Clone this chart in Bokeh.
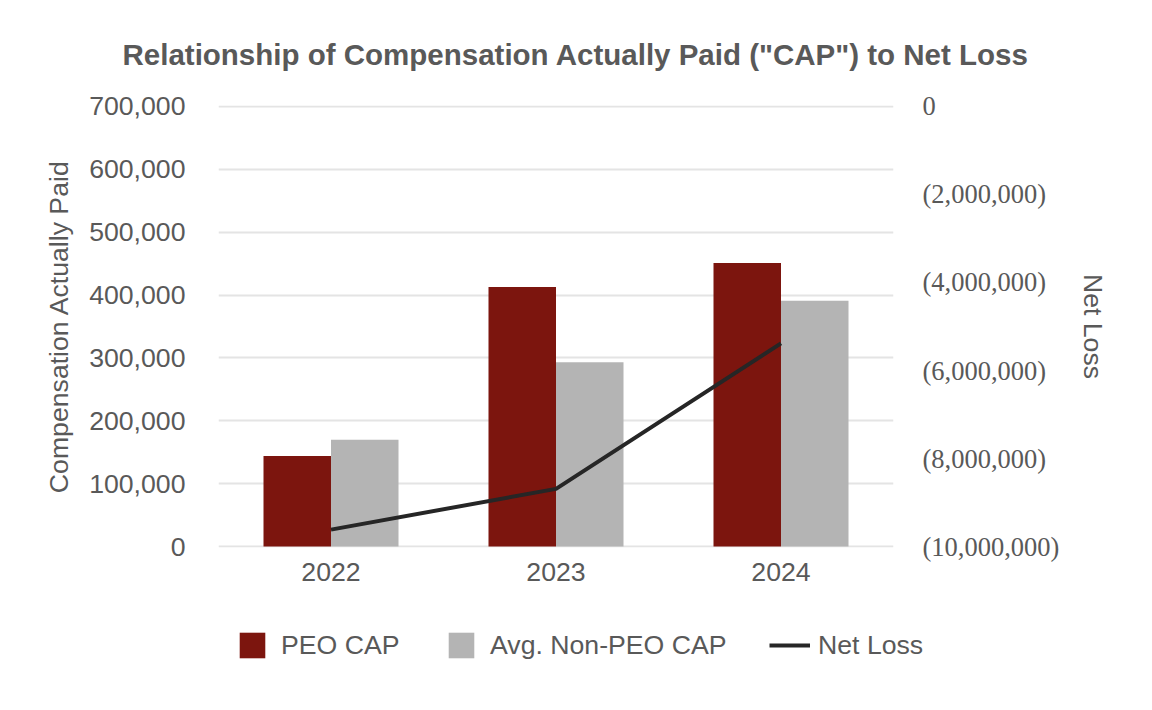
from bokeh.plotting import figure
from bokeh.layouts import column, row
from bokeh.models import (Range1d, LinearAxis, FixedTicker, NumeralTickFormatter,
                          CustomJSTickFormatter, Legend, LegendItem, ColumnDataSource)
from bokeh.transform import dodge
from bokeh.embed import file_html
from bokeh.resources import INLINE

years = ["2022", "2023", "2024"]
peo_cap = [144000, 413000, 451000]
non_peo_cap = [170000, 293000, 391000]
net_loss = [-9615000, -8690000, -5385000]
left_ticks = [0, 100000, 200000, 300000, 400000, 500000, 600000, 700000]
right_ticks = [-10000000, -8000000, -6000000, -4000000, -2000000, 0]
title_text = 'Relationship  of Compensation Actually Paid ("CAP") to Net Loss'
series_names = ["PEO CAP", "Avg. Non-PEO CAP", "Net Loss"]

TXT = "#595959"
SANS = "Liberation Sans"
FS = "26.67px"
C_PEO = "#7C150E"
C_NON = "#B4B4B4"
C_LINE = "#262626"

src = ColumnDataSource(dict(year=years, peo=peo_cap, non=non_peo_cap, loss=net_loss))

EXT = 0.00215  # tiny range extension so the edge gridlines are drawn
p = figure(x_range=years, y_range=Range1d(-700000 * EXT, 700000 * (1 + EXT)),
           frame_width=675, frame_height=442,
           min_border_left=218, min_border_right=250, min_border_top=103, min_border_bottom=55,
           output_backend="svg", toolbar_location=None, background_fill_color="white",
           border_fill_color="white")
p.outline_line_color = None
p.x_range.range_padding = 0
p.extra_y_ranges = {"right": Range1d(-10000000 * (1 + EXT), 10000000 * EXT)}

b1 = p.vbar(x=dodge("year", -0.15, range=p.x_range), top="peo", width=0.3, source=src,
            fill_color=C_PEO, line_color=None)
b2 = p.vbar(x=dodge("year", 0.15, range=p.x_range), top="non", width=0.3, source=src,
            fill_color=C_NON, line_color=None)
ln = p.line(x="year", y="loss", source=src, y_range_name="right",
            line_color=C_LINE, line_width=4)

# title
p.title.text = title_text
p.title.align = "left"
p.title.offset = -96
p.title.standoff = 70
p.title.text_font = SANS
p.title.text_font_size = "29.5px"
p.title.text_font_style = "bold"
p.title.text_color = TXT

# left axis
ya = p.yaxis[0]
ya.ticker = FixedTicker(ticks=left_ticks)
ya.formatter = NumeralTickFormatter(format="0,0")
ya.axis_line_color = None
ya.major_tick_line_color = None
ya.minor_tick_line_color = None
ya.major_tick_out = 0
ya.major_label_standoff = 33
ya.major_label_text_font = SANS
ya.major_label_text_font_size = FS
ya.major_label_text_color = TXT
ya.axis_label = "Compensation Actually Paid"
ya.axis_label_text_font = SANS
ya.axis_label_text_font_size = FS
ya.axis_label_text_font_style = "normal"
ya.axis_label_text_color = TXT
ya.axis_label_standoff = 12

# right axis
ra = LinearAxis(y_range_name="right", ticker=FixedTicker(ticks=right_ticks),
                formatter=CustomJSTickFormatter(code="""
const v = Math.round(tick);
if (v === 0) return "0";
const s = Math.abs(v).toString().replace(/\\B(?=(\\d{3})+(?!\\d))/g, ",");
return v < 0 ? "(" + s + ")" : s;
"""))
ra.axis_line_color = None
ra.major_tick_line_color = None
ra.minor_tick_line_color = None
ra.major_tick_out = 0
ra.major_label_standoff = 29
ra.major_label_text_font = "Liberation Serif"
ra.major_label_text_font_size = "26.5px"
ra.major_label_text_color = TXT
ra.axis_label = "Net Loss"
ra.axis_label_text_font = SANS
ra.axis_label_text_font_size = FS
ra.axis_label_text_font_style = "normal"
ra.axis_label_text_color = TXT
ra.axis_label_standoff = 16
p.add_layout(ra, "right")

# x axis
xa = p.xaxis[0]
xa.axis_line_color = None
xa.major_tick_line_color = None
xa.major_tick_out = 0
xa.major_label_standoff = 15
xa.major_label_text_font = SANS
xa.major_label_text_font_size = FS
xa.major_label_text_color = TXT

p.xgrid.grid_line_color = None
p.ygrid.grid_line_color = "#E4E4E4"
p.ygrid.grid_line_width = 2

# legend strip below the chart (separate canvas so the legend is not clipped);
# its proxy glyphs use the real data but sit outside that strip's visible range
lf = figure(width=1143, height=100, min_border=0, x_range=years, y_range=Range1d(1e9, 2e9),
            x_axis_type=None, y_axis_type=None, output_backend="svg", toolbar_location=None,
            background_fill_color="white", border_fill_color="white")
lf.outline_line_color = None
lf.xgrid.grid_line_color = None
lf.ygrid.grid_line_color = None
k1 = lf.vbar(x="year", top="peo", width=0.3, source=src, fill_color=C_PEO, line_color=None)
k2 = lf.vbar(x="year", top="non", width=0.3, source=src, fill_color=C_NON, line_color=None)
k3 = lf.line(x="year", y="loss", source=src, line_color=C_LINE, line_width=4)

def mk_legend(label, rend, x, gw, standoff):
    lg = Legend(items=[LegendItem(label=label, renderers=[rend])], location=(x, 41),
                orientation="horizontal", glyph_width=gw, glyph_height=32,
                label_standoff=standoff, padding=0, margin=0, spacing=0,
                border_line_color=None, background_fill_alpha=0,
                label_text_font=SANS, label_text_font_size=FS, label_text_color=TXT)
    lf.add_layout(lg, "center")

mk_legend(series_names[0], k1, 236, 32, 13)
mk_legend(series_names[1], k2, 445, 32, 13)
mk_legend(series_names[2], k3, 769, 41, 8)

layout = column(p, row(lf), spacing=0)
open("out.html", "w").write(file_html(layout, INLINE))
